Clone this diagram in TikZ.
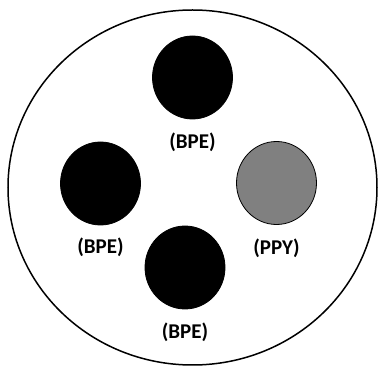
\documentclass[tikz,border=0pt]{standalone}
\usepackage{fontspec}
\setmainfont{Carlito}
\usetikzlibrary{shapes.geometric, positioning}

\begin{document}
\begin{tikzpicture}[x=1pt, y=1pt,
    electrode/.style={draw, ellipse, inner sep=0pt, minimum width=80pt, minimum height=83pt, line width=0.8pt},
    lbl/.style={font=\fontsize{21}{24}\selectfont\bfseries, inner sep=0pt, anchor=center}]
        \useasboundingbox (0,0) rectangle (378,367);
        \node[draw, ellipse, line width=1.5pt, minimum width=369pt, minimum height=355pt, inner sep=0pt] (dish) at (192.5,179.5) {};

        \node[electrode, fill=black] (bpeTop) at (192.5,289.5) {};
        \node[electrode, fill=black] (bpeLeft) at (100.5,183.5) {};
        \node[electrode, fill=gray] (ppy) at (276.5,184) {};
        \node[electrode, fill=black] (bpeBottom) at (185,99.5) {};

        \node[lbl, below=23pt of bpeTop.south, anchor=center] (lblTop) {(BPE)};
        \node[lbl, below=22pt of bpeLeft.south, anchor=center] (lblLeft) {(BPE)};
        \node[lbl, below=23pt of ppy.south, anchor=center] (lblPpy) {(PPY)};
        \node[lbl, below=23pt of bpeBottom.south, anchor=center] (lblBottom) {(BPE)};
    \end{tikzpicture}
\end{document}
